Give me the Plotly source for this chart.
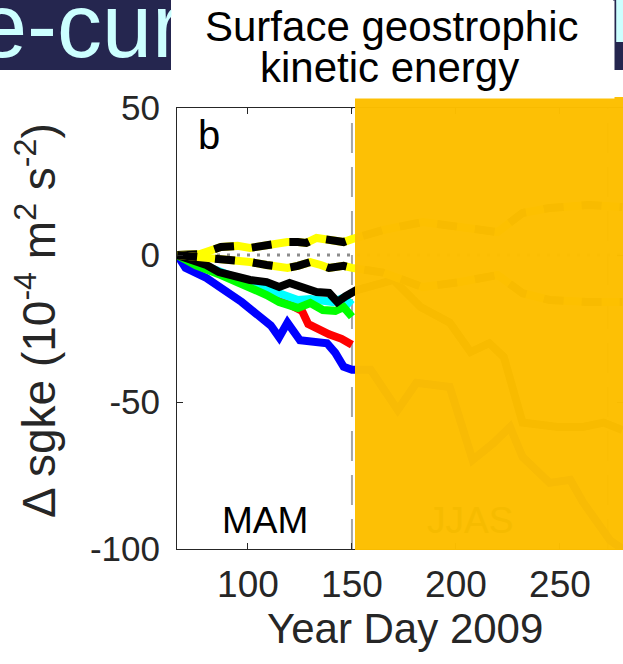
import plotly.graph_objects as go

# ---------------- data ----------------
blue_days = [66, 70, 80, 89, 97, 104, 111, 115, 119, 125, 131, 138, 142, 146, 150,
             159, 172, 181, 197, 202, 208, 218, 226, 232, 245, 255, 261, 274, 280]
blue_vals = [0, -4.4, -7.8, -11.9, -16, -20, -24, -28, -23, -29, -29.3, -30, -33.3, -38, -39,
             -39, -52.7, -43.5, -44.9, -57, -69.7, -64, -58.5, -68.7, -77.5, -76.5, -84, -97, -100]

red_days = [66, 80, 90, 96, 105, 115, 122, 126, 129, 133, 139, 145, 150]
red_vals = [0, -4.5, -7.5, -9.5, -12, -15, -17.5, -19, -23.5, -25, -27, -28.5, -30.5]

cyan_days = [66, 78, 88, 97, 105, 112, 118, 124, 130, 136, 141, 146, 150]
cyan_vals = [0, -3.5, -6.5, -8.5, -10.5, -12.5, -13.8, -15.3, -15, -15.5, -16, -14.5, -17]

green_days = [66, 75, 87, 95, 102, 109, 115, 124, 130, 136, 142, 146, 150]
green_vals = [0, -3.5, -6.8, -9.2, -11.9, -13.6, -16, -18, -16.3, -18.7, -19, -17.7, -21]

black_days = [66, 70, 80, 86, 95, 101, 109, 115, 120, 126, 133, 139, 143, 147, 150,
              152, 170, 183, 197, 207, 216, 223, 232, 249, 261, 271, 280]
black_vals = [0, -1, -3.4, -5.8, -7.5, -8.5, -9.2, -10.9, -9.5, -10.9, -12.6, -12.9, -16, -14, -12.6,
              -12, -8.5, -17.7, -23, -33, -30, -34.7, -57, -58.5, -58.5, -57, -59.5]

upper_days = [66, 77, 87, 95, 101, 109, 119, 124, 128, 133, 139, 146, 150,
              165, 184, 202, 220, 232, 245, 264, 280]
upper_vals = [0, 0.3, 2.7, 3.1, 2.4, 3.4, 4.4, 4.4, 4.1, 5.8, 5.1, 4.4, 5.4,
              8.5, 11.2, 9.5, 7.8, 14.3, 16, 17, 16.3]

lower_days = [66, 77, 87, 95, 101, 109, 119, 124, 130, 135, 139, 146, 150,
              165, 184, 202, 220, 232, 245, 264, 280]
lower_vals = [0, -0.7, -1.7, -1.7, -2.4, -3.4, -4.4, -3.7, -2.4, -3.4, -4.4, -3.7, -4.4,
              -6, -10.9, -9.2, -6.8, -13, -15.3, -16, -16]

season_bounds = [150, 273]
x_ticks = [100, 150, 200, 250]
x_ticklabels = ["100", "150", "200", "250"]
y_ticks = [-100, -50, 0, 50]
y_ticklabels = ["-100", "-50", "0", "50"]
x_range = [65.9, 280.3]
y_range = [-100, 50]

# ---------------- figure ----------------
W, H = 623, 664
PL, PR, PT, PB = 177, 623, 108, 549   # plot area in pixels


def px(x):
    return x / W


def py(y):
    return 1 - y / H


AX = "#262626"
LW = 8
FONT = "Liberation Sans, Arial, Helvetica, sans-serif"
CYAN = "#ccffff"
NAVY = "#25264f"

fig = go.Figure()

fig.add_trace(go.Scatter(x=[x_range[0], x_range[1]], y=[0, 0], mode="lines",
                         line=dict(color="#8c8c8c", width=3, dash="3px,7px"),
                         hoverinfo="skip"))
for d in season_bounds:
    fig.add_trace(go.Scatter(x=[d, d], y=y_range, mode="lines",
                             line=dict(color="#a6a6a6", width=2, dash="30px,14px"),
                             hoverinfo="skip"))

for xs, ys, c in [(blue_days, blue_vals, "#0000ff"),
                  (red_days, red_vals, "#ff0000"),
                  (cyan_days, cyan_vals, "#00ffff"),
                  (green_days, green_vals, "#00ff00"),
                  (black_days, black_vals, "#000000")]:
    fig.add_trace(go.Scatter(x=xs, y=ys, mode="lines",
                             line=dict(color=c, width=LW), hoverinfo="skip"))

for xs, ys in [(upper_days, upper_vals), (lower_days, lower_vals)]:
    fig.add_trace(go.Scatter(x=xs, y=ys, mode="lines",
                             line=dict(color="#ffff00", width=LW), hoverinfo="skip"))
    fig.add_trace(go.Scatter(x=xs, y=ys, mode="lines",
                             line=dict(color="#000000", width=LW, dash="20px,18px"),
                             hoverinfo="skip"))

fig.update_layout(
    width=W, height=H,
    margin=dict(l=0, r=0, t=0, b=0, pad=0),
    paper_bgcolor="white", plot_bgcolor="rgba(0,0,0,0)",
    showlegend=False,
    font=dict(family=FONT, color=AX),
    xaxis=dict(domain=[px(PL), px(PR)], range=x_range,
               tickvals=x_ticks, ticktext=x_ticklabels, ticks="inside", ticklen=6,
               tickcolor=AX, showline=True, linecolor=AX, linewidth=1,
               mirror="ticks", showgrid=False, zeroline=False, automargin=False,
               tickfont=dict(size=37, color=AX), ticklabelstandoff=3),
    yaxis=dict(domain=[py(PB), py(PT)], range=y_range,
               tickvals=y_ticks, ticktext=y_ticklabels, ticks="inside", ticklen=6,
               tickcolor=AX, showline=True, linecolor=AX, linewidth=1,
               mirror="ticks", showgrid=False, zeroline=False, automargin=False,
               tickfont=dict(size=35, color=AX), ticklabelstandoff=9),
)

ORANGE = "#fdbf00"
shapes = [
    # slide header navy boxes
    dict(type="rect", xref="paper", yref="paper", x0=0, x1=px(171),
         y0=py(70), y1=1, fillcolor=NAVY, line=dict(width=0), layer="below"),
    dict(type="rect", xref="paper", yref="paper", x0=px(613), x1=1,
         y0=py(70), y1=1, fillcolor=NAVY, line=dict(width=0), layer="below"),
    # orange cover box
    dict(type="rect", xref="paper", yref="paper", x0=px(355), x1=1,
         y0=py(550), y1=py(97), fillcolor=ORANGE, opacity=0.98,
         line=dict(width=0), layer="above"),
]
fig.update_layout(shapes=shapes)

ann = []
# slide-header text fragments (partly hidden by the white title box / page edge)
ann.append(dict(text="e-cur", x=px(-24), y=py(26), xref="paper", yref="paper",
                xanchor="left", yanchor="middle", showarrow=False, borderpad=0,
                font=dict(size=90, color=CYAN)))
ann.append(dict(text="r", x=px(609), y=py(11), xref="paper", yref="paper",
                xanchor="left", yanchor="middle", showarrow=False, borderpad=0,
                font=dict(size=90, color=CYAN)))
# white title box of the slide
ann.append(dict(text=" ", x=px(171), y=1, xref="paper", yref="paper",
                xanchor="left", yanchor="top", showarrow=False, borderpad=0,
                width=613 - 171, height=97, bgcolor="white",
                font=dict(size=10, color="white")))
# panel title
ann.append(dict(text="Surface geostrophic", x=px(392), y=py(27), xref="paper", yref="paper",
                xanchor="center", yanchor="middle", showarrow=False,
                font=dict(size=42, color="#000000")))
ann.append(dict(text="kinetic energy", x=px(389), y=py(67), xref="paper", yref="paper",
                xanchor="center", yanchor="middle", showarrow=False,
                font=dict(size=42, color="#000000")))
# axis titles
ann.append(dict(text="\u0394 sgke (10<sup>-4</sup> m<sup>2</sup> s<sup>-2</sup>)",
                x=px(36), y=py(321), xref="paper", yref="paper", textangle=-90,
                xanchor="center", yanchor="middle", showarrow=False,
                font=dict(size=46, color=AX)))
ann.append(dict(text="Year Day 2009", x=px(405), y=py(628), xref="paper", yref="paper",
                xanchor="center", yanchor="middle", showarrow=False,
                font=dict(size=42, color=AX)))
# panel labels
ann.append(dict(text="b", x=px(209), y=py(135), xref="paper", yref="paper",
                xanchor="center", yanchor="middle", showarrow=False,
                font=dict(size=40, color="#000000")))
ann.append(dict(text="MAM", x=px(265), y=py(520), xref="paper", yref="paper",
                xanchor="center", yanchor="middle", showarrow=False,
                font=dict(size=37, color="#000000")))
ann.append(dict(text="JJAS", x=px(470), y=py(520), xref="paper", yref="paper",
                xanchor="center", yanchor="middle", showarrow=False,
                font=dict(size=37, color="#f6bb00")))
fig.update_layout(annotations=ann)

fig.write_html("out.html", config={"displayModeBar": False},
               post_script="document.body.style.margin='0';document.body.style.overflow='hidden';")
